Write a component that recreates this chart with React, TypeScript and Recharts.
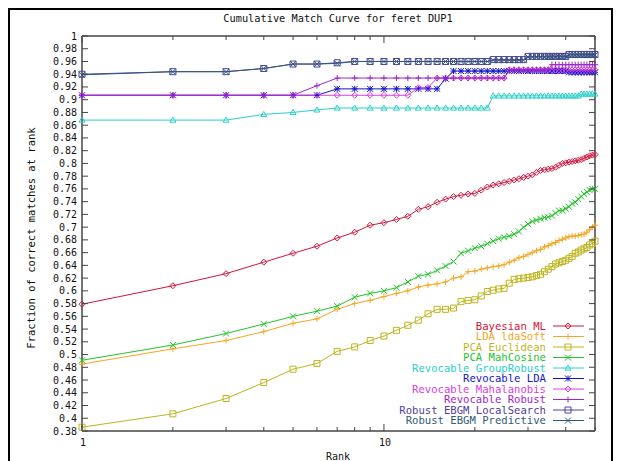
import React from "react";
import { LineChart, Line, XAxis, YAxis } from "recharts";

// ranks 1..50, log x axis
const RANKS = [
  1, 2, 3, 4, 5, 6, 7, 8, 9, 10, 11, 12, 13, 14, 15, 16, 17, 18, 19, 20, 21, 22, 23, 24, 25,
  26, 27, 28, 29, 30, 31, 32, 33, 34, 35, 36, 37, 38, 39, 40, 41, 42, 43, 44, 45, 46, 47, 48, 49, 50,
];

const BAYESIAN_ML = [
  0.579, 0.608, 0.627, 0.645, 0.659, 0.67, 0.683, 0.692, 0.703, 0.707, 0.712, 0.717, 0.728, 0.732, 0.739,
  0.744, 0.748, 0.75, 0.752, 0.753, 0.758, 0.763, 0.766, 0.768, 0.77, 0.772, 0.774, 0.776, 0.778, 0.78,
  0.782, 0.786, 0.789, 0.79, 0.791, 0.792, 0.794, 0.797, 0.8, 0.801, 0.802, 0.803, 0.804, 0.805, 0.806,
  0.808, 0.81, 0.812, 0.813, 0.814,
];
const LDA_SOFT = [
  0.485, 0.509, 0.522, 0.536, 0.549, 0.556, 0.571, 0.58, 0.585, 0.591, 0.596, 0.6, 0.606, 0.609, 0.611,
  0.614, 0.62, 0.622, 0.63, 0.631, 0.634, 0.636, 0.638, 0.639, 0.641, 0.645, 0.648, 0.652, 0.654, 0.657,
  0.66, 0.663, 0.665, 0.669, 0.671, 0.674, 0.676, 0.679, 0.681, 0.683, 0.685, 0.686, 0.686, 0.687, 0.688,
  0.689, 0.692, 0.696, 0.7, 0.703,
];
const PCA_EUCLIDEAN = [
  0.386, 0.407, 0.431, 0.456, 0.477, 0.486, 0.505, 0.512, 0.522, 0.529, 0.538, 0.546, 0.554, 0.564, 0.571,
  0.571, 0.573, 0.583, 0.585, 0.586, 0.592, 0.599, 0.601, 0.603, 0.604, 0.612, 0.618, 0.619, 0.62, 0.621,
  0.622, 0.624, 0.626, 0.63, 0.634, 0.638, 0.642, 0.644, 0.646, 0.648, 0.651, 0.654, 0.659, 0.661, 0.664,
  0.666, 0.668, 0.672, 0.674, 0.678,
];
const PCA_MAHCOSINE = [
  0.491, 0.515, 0.533, 0.548, 0.56, 0.568, 0.576, 0.59, 0.596, 0.6, 0.605, 0.614, 0.623, 0.626, 0.632,
  0.639, 0.646, 0.659, 0.663, 0.667, 0.67, 0.674, 0.678, 0.682, 0.684, 0.686, 0.689, 0.693, 0.7, 0.705,
  0.709, 0.711, 0.713, 0.715, 0.716, 0.718, 0.722, 0.726, 0.726, 0.729, 0.732, 0.737, 0.739, 0.744, 0.748,
  0.752, 0.755, 0.758, 0.76, 0.76,
];
const REV_GROUPROBUST = [
  0.868, 0.868, 0.868, 0.877, 0.88, 0.884, 0.887, 0.887, 0.887, 0.887, 0.887, 0.887, 0.887, 0.887, 0.887,
  0.887, 0.887, 0.887, 0.887, 0.887, 0.887, 0.887, 0.906, 0.906, 0.906, 0.906, 0.906, 0.906, 0.906, 0.906,
  0.906, 0.906, 0.906, 0.906, 0.906, 0.906, 0.906, 0.906, 0.906, 0.906, 0.906, 0.906, 0.906, 0.906, 0.909,
  0.909, 0.909, 0.909, 0.909, 0.909,
];
const REV_LDA = [
  0.907, 0.907, 0.907, 0.907, 0.907, 0.907, 0.917, 0.917, 0.917, 0.917, 0.917, 0.917, 0.917, 0.917, 0.917,
  0.933, 0.945, 0.945, 0.945, 0.945, 0.945, 0.945, 0.945, 0.945, 0.945, 0.945, 0.945, 0.945, 0.945, 0.945,
  0.945, 0.945, 0.945, 0.945, 0.945, 0.945, 0.945, 0.945, 0.945, 0.945, 0.943, 0.943, 0.943, 0.943, 0.943,
  0.943, 0.943, 0.943, 0.943, 0.943,
];
const REV_MAHALANOBIS = [
  0.907, 0.907, 0.907, 0.907, 0.907, 0.907, 0.907, 0.907, 0.907, 0.907, 0.907, 0.907, 0.919, 0.919, 0.934,
  0.934, 0.934, 0.934, 0.934, 0.934, 0.934, 0.934, 0.934, 0.934, 0.934, 0.947, 0.947, 0.947, 0.947, 0.947,
  0.947, 0.947, 0.947, 0.947, 0.947, 0.947, 0.947, 0.947, 0.947, 0.947, 0.947, 0.947, 0.947, 0.947, 0.947,
  0.947, 0.947, 0.947, 0.947, 0.947,
];
const REV_ROBUST = [
  0.907, 0.907, 0.907, 0.907, 0.907, 0.922, 0.934, 0.934, 0.934, 0.934, 0.934, 0.934, 0.934, 0.934, 0.934,
  0.934, 0.934, 0.934, 0.934, 0.934, 0.934, 0.934, 0.934, 0.934, 0.934, 0.947, 0.947, 0.947, 0.947, 0.947,
  0.947, 0.947, 0.947, 0.947, 0.947, 0.955, 0.955, 0.955, 0.955, 0.955, 0.955, 0.955, 0.955, 0.955, 0.955,
  0.955, 0.955, 0.955, 0.955, 0.955,
];
const EBGM_LOCALSEARCH = [
  0.94, 0.944, 0.944, 0.949, 0.956, 0.956, 0.958, 0.96, 0.96, 0.96, 0.96, 0.96, 0.96, 0.96, 0.96,
  0.96, 0.96, 0.96, 0.96, 0.96, 0.96, 0.96, 0.963, 0.963, 0.963, 0.963, 0.963, 0.963, 0.963, 0.968,
  0.968, 0.968, 0.968, 0.968, 0.968, 0.968, 0.968, 0.968, 0.968, 0.968, 0.971, 0.971, 0.971, 0.971, 0.971,
  0.971, 0.971, 0.971, 0.971, 0.971,
];
const EBGM_PREDICTIVE = [
  0.939, 0.944, 0.944, 0.949, 0.956, 0.956, 0.957, 0.96, 0.96, 0.96, 0.96, 0.96, 0.96, 0.96, 0.96,
  0.96, 0.96, 0.96, 0.96, 0.96, 0.96, 0.96, 0.962, 0.962, 0.962, 0.962, 0.962, 0.962, 0.962, 0.967,
  0.967, 0.967, 0.967, 0.967, 0.967, 0.967, 0.967, 0.967, 0.967, 0.967, 0.97, 0.97, 0.97, 0.97, 0.97,
  0.97, 0.97, 0.97, 0.97, 0.97,
];

const X_TICKS = [1, 2, 3, 4, 5, 6, 7, 8, 9, 10, 20, 30, 40, 50];
const X_LABELS = [1, 10];
const Y_TICKS = [
  0.38, 0.4, 0.42, 0.44, 0.46, 0.48, 0.5, 0.52, 0.54, 0.56, 0.58, 0.6, 0.62, 0.64, 0.66, 0.68, 0.7,
  0.72, 0.74, 0.76, 0.78, 0.8, 0.82, 0.84, 0.86, 0.88, 0.9, 0.92, 0.94, 0.96, 0.98, 1,
];

const SERIES = [
  { key: "bml", name: "Bayesian ML", color: "#d4143c", shape: "diamond", values: BAYESIAN_ML },
  { key: "lda", name: "LDA ldaSoft", color: "#f5a623", shape: "plus", values: LDA_SOFT },
  { key: "pcae", name: "PCA Euclidean", color: "#bdb51e", shape: "box", values: PCA_EUCLIDEAN },
  { key: "pcam", name: "PCA MahCosine", color: "#22c42a", shape: "cross", values: PCA_MAHCOSINE },
  { key: "rgr", name: "Revocable GroupRobust", color: "#2ad0c8", shape: "triangle", values: REV_GROUPROBUST },
  { key: "rlda", name: "Revocable LDA", color: "#1414c8", shape: "star", values: REV_LDA },
  { key: "rmah", name: "Revocable Mahalanobis", color: "#dc3cdc", shape: "diamond", values: REV_MAHALANOBIS },
  { key: "rrob", name: "Revocable Robust", color: "#9c28c8", shape: "plus", values: REV_ROBUST },
  { key: "els", name: "Robust EBGM LocalSearch", color: "#50409a", shape: "box", values: EBGM_LOCALSEARCH },
  { key: "epr", name: "Robust EBGM Predictive", color: "#2e5a78", shape: "cross", values: EBGM_PREDICTIVE },
];

const data = RANKS.map((rank, i) => {
  const row: Record<string, number> = { rank };
  SERIES.forEach((s) => (row[s.key] = s.values[i]));
  return row;
});

const FONT = "'DejaVu Sans Mono', monospace";
const AXIS = "#444";

function Marker({ shape, cx, cy, color }: { shape: string; cx: number; cy: number; color: string }) {
  const s = 3;
  let d = "";
  if (shape === "diamond") d = `M${cx},${cy - s}L${cx + s},${cy}L${cx},${cy + s}L${cx - s},${cy}Z`;
  else if (shape === "plus") d = `M${cx - s},${cy}H${cx + s}M${cx},${cy - s}V${cy + s}`;
  else if (shape === "box") d = `M${cx - s},${cy - s}H${cx + s}V${cy + s}H${cx - s}Z`;
  else if (shape === "cross") d = `M${cx - s},${cy - s}L${cx + s},${cy + s}M${cx - s},${cy + s}L${cx + s},${cy - s}`;
  else if (shape === "triangle") d = `M${cx},${cy - s}L${cx + s},${cy + s * 0.7}L${cx - s},${cy + s * 0.7}Z`;
  else d = `M${cx - s},${cy}H${cx + s}M${cx},${cy - s}V${cy + s}M${cx - s},${cy - s}L${cx + s},${cy + s}M${cx - s},${cy + s}L${cx + s},${cy - s}`;
  return <path d={d} fill="none" stroke={color} strokeWidth={1} />;
}

const dotFor = (shape: string, color: string) => (p: any) =>
  p.cx == null ? null : <Marker key={`d-${p.index}`} shape={shape} cx={p.cx} cy={p.cy} color={color} />;

// inward ticks like gnuplot; tickSize/tickMargin are 0 so x,y sit on the axis line
function AxisTick(props: any) {
  const { x, y, payload, side } = props;
  const v = payload.value;
  if (side === "left" || side === "right") {
    const dir = side === "left" ? 1 : -1;
    return (
      <g>
        <line x1={x} y1={y} x2={x + dir * 6} y2={y} stroke={AXIS} />
        {side === "left" && (
          <text x={x - 5} y={y} dy="0.35em" textAnchor="end" fontFamily={FONT} fontSize={10} fill="#111">
            {String(v)}
          </text>
        )}
      </g>
    );
  }
  const major = X_LABELS.includes(v);
  const len = major ? 7 : 4;
  const dir = side === "bottom" ? -1 : 1;
  return (
    <g>
      <line x1={x} y1={y} x2={x} y2={y + dir * len} stroke={AXIS} />
      {side === "bottom" && major && (
        <text x={x + 1} y={y + 11} dy="0.35em" textAnchor="middle" fontFamily={FONT} fontSize={10} fill="#111">
          {String(v)}
        </text>
      )}
    </g>
  );
}

export default function App() {
  return (
    <div
      style={{
        position: "relative",
        width: 605,
        height: 470,
        border: "2px solid #000",
        boxSizing: "border-box",
        background: "#fff",
        fontFamily: FONT,
      }}
    >
      <LineChart width={601} height={455} data={data} margin={{ top: 0, right: 0, bottom: 0, left: 0 }}>
        <XAxis
          xAxisId="b"
          dataKey="rank"
          type="number"
          scale="log"
          domain={[1, 50]}
          ticks={X_TICKS}
          interval={0}
          height={34}
          tickSize={0}
          tickMargin={0}
          tickLine={false}
          axisLine={{ stroke: AXIS, strokeWidth: 1.5 }}
          tick={<AxisTick side="bottom" />}
        />
        <XAxis
          xAxisId="t"
          orientation="top"
          dataKey="rank"
          type="number"
          scale="log"
          domain={[1, 50]}
          allowDataOverflow
          ticks={X_TICKS}
          interval={0}
          height={26}
          tickSize={0}
          tickMargin={0}
          tickLine={false}
          axisLine={{ stroke: AXIS, strokeWidth: 1.5 }}
          tick={<AxisTick side="top" />}
        />
        <YAxis
          yAxisId="l"
          type="number"
          domain={[0.38, 1]}
          ticks={Y_TICKS}
          interval={0}
          width={72}
          tickSize={0}
          tickMargin={0}
          tickLine={false}
          axisLine={{ stroke: AXIS, strokeWidth: 1.5 }}
          tick={<AxisTick side="left" />}
        />
        <YAxis
          yAxisId="r"
          orientation="right"
          type="number"
          domain={[0.38, 1]}
          allowDataOverflow
          ticks={Y_TICKS}
          interval={0}
          width={16}
          tickSize={0}
          tickMargin={0}
          tickLine={false}
          axisLine={{ stroke: AXIS, strokeWidth: 1.5 }}
          tick={<AxisTick side="right" />}
        />
        {SERIES.map((s) => (
          <Line
            key={s.key}
            xAxisId="b"
            yAxisId="l"
            dataKey={s.key}
            type="linear"
            stroke={s.color}
            strokeWidth={1}
            dot={dotFor(s.shape, s.color)}
            activeDot={false}
            isAnimationActive={false}
          />
        ))}
      </LineChart>

      <div style={{ position: "absolute", left: 128, top: 2, width: 400, textAlign: "center", fontSize: 10.3, lineHeight: "12px", color: "#111" }}>
        Cumulative Match Curve for feret DUP1
      </div>
      <div style={{ position: "absolute", left: 278, top: 441, width: 100, textAlign: "center", fontSize: 10, lineHeight: "12px", color: "#111" }}>
        Rank
      </div>
      <div
        style={{
          position: "absolute",
          left: 21,
          top: 228,
          transform: "translate(-50%, -50%) rotate(-90deg)",
          whiteSpace: "nowrap",
          fontSize: 10.5,
          lineHeight: "12px",
          color: "#111",
        }}
      >
        Fraction of correct matches at rank
      </div>

      <svg width={601} height={455} style={{ position: "absolute", left: 0, top: 0, pointerEvents: "none" }}>
        {SERIES.map((s, i) => {
          const cy = 316 + i * 10.5;
          return (
            <g key={s.key}>
              <text x={536} y={cy} dy="0.35em" textAnchor="end" fontFamily={FONT} fontSize={10.6} fill={s.color}>
                {s.name}
              </text>
              <line x1={543} y1={cy} x2={574} y2={cy} stroke={s.color} strokeWidth={1} />
              <Marker shape={s.shape} cx={558} cy={cy} color={s.color} />
            </g>
          );
        })}
      </svg>
    </div>
  );
}
